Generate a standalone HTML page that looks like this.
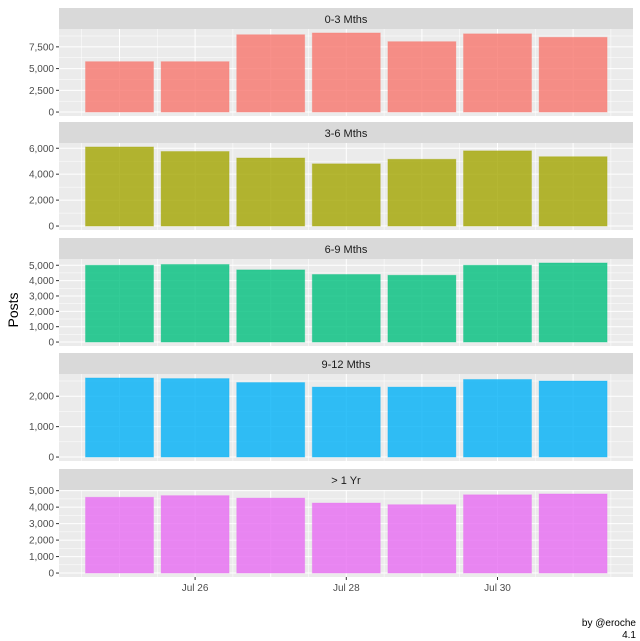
<!DOCTYPE html>
<html><head><meta charset="utf-8"><style>
body{margin:0;background:#fff;}
svg{display:block;font-family:"Liberation Sans",sans-serif;}
</style></head><body>
<svg id="chart" width="640" height="641" viewBox="0 0 640 641"></svg>
<script>
const days = ["Jul 25","Jul 26","Jul 27","Jul 28","Jul 29","Jul 30","Jul 31"];
const xTickLabels = ["Jul 26","Jul 28","Jul 30"];
const xTickIndex = [1,3,5];
const panelNames = ["0-3 Mths","3-6 Mths","6-9 Mths","9-12 Mths","> 1 Yr"];
const s03 = [5800,5800,8900,9100,8100,9000,8600];
const s36 = [6100,5750,5250,4800,5150,5800,5350];
const s69 = [5000,5050,4700,4400,4350,5000,5150];
const s912 = [2600,2580,2450,2300,2300,2550,2500];
const s1yr = [4600,4700,4550,4250,4150,4750,4800];
const ticks03 = [0,2500,5000,7500];
const ticks36 = [0,2000,4000,6000];
const ticks69 = [0,1000,2000,3000,4000,5000];
const ticks912 = [0,1000,2000];
const ticks1yr = [0,1000,2000,3000,4000,5000];

const series=[s03,s36,s69,s912,s1yr];
const tickSets=[ticks03,ticks36,ticks69,ticks912,ticks1yr];
const colors=["#F8766D","#A3A500","#00BF7D","#00B0F6","#E76BF3"];
const NS="http://www.w3.org/2000/svg";
const svg=document.getElementById('chart');
function mk(t,a,p){const e=document.createElementNS(NS,t);for(const k in a)e.setAttribute(k,a[k]);(p||svg).appendChild(e);return e;}
const L=59,R=633;
const x=i=>119.5+i*75.6;
const bw=68;
const stripTops=[8,122,238,353,469];
panelNames.forEach((name,p)=>{
  const g=mk('g',{});
  
  
  const st=stripTops[p], top=st+21, bot=top+87;
  const strip=mk('rect',{x:L,y:st,width:R-L,height:21,fill:'#d9d9d9'},g);
  
  
  const lab=mk('text',{x:(L+R)/2,y:st+15,'text-anchor':'middle','font-size':'11',fill:'#1a1a1a'},g);
  lab.textContent=name;
  
  
  const bg=mk('rect',{x:L,y:top,width:R-L,height:bot-top,fill:'#ebebeb'},g);
  
  
  const vals=series[p], mx=Math.max(...vals);
  const lo=-0.05*mx, hi=1.05*mx;
  const y=v=>bot-(v-lo)/(hi-lo)*(bot-top);
  const tk=tickSets[p], step=tk[1]-tk[0];
  for(let v=tk[0]-step/2; v<=hi; v+=step){ if(v>=lo) mk('line',{x1:L,x2:R,y1:y(v),y2:y(v),stroke:'#fff','stroke-width':0.5},g);}
  for(let i=-0.5;i<=6.5;i+=1) mk('line',{x1:x(i),x2:x(i),y1:top,y2:bot,stroke:'#fff','stroke-width':0.5},g);
  for(let i=0;i<7;i++) mk('line',{x1:x(i),x2:x(i),y1:top,y2:bot,stroke:'#fff','stroke-width':1},g);
  tk.forEach(v=>{
    mk('line',{x1:L,x2:R,y1:y(v),y2:y(v),stroke:'#fff','stroke-width':1},g);
    mk('line',{x1:L-3,x2:L,y1:y(v),y2:y(v),stroke:'#333','stroke-width':1},g);
    const t=mk('text',{x:L-5,y:y(v)+3.5,'text-anchor':'end','font-size':'10',fill:'#4d4d4d'},g);
    t.textContent=v.toLocaleString('en-US');
    
    
  });
  vals.forEach((v,i)=>{
    const b=mk('rect',{x:x(i)-bw/2,y:y(v),width:bw,height:y(0)-y(v),fill:colors[p],'fill-opacity':0.8,stroke:colors[p],'stroke-opacity':0.3},g);
    
    
  });
});
const axBot=577;
xTickIndex.forEach((i,k)=>{
  mk('line',{x1:x(i),x2:x(i),y1:axBot,y2:axBot+3,stroke:'#333'});
  const t=mk('text',{x:x(i),y:axBot+14,'text-anchor':'middle','font-size':'10',fill:'#4d4d4d'});
  t.textContent=xTickLabels[k];
  
  
});
const yl=mk('text',{x:0,y:0,transform:'translate(18,310) rotate(-90)','text-anchor':'middle','font-size':'14',fill:'#000'});
yl.textContent='Posts';


const c1=mk('text',{x:636,y:626,'text-anchor':'end','font-size':'10',fill:'#000'});
c1.textContent='by @eroche';


const c2=mk('text',{x:636,y:638,'text-anchor':'end','font-size':'10',fill:'#000'});
c2.textContent='4.1';


</script>
</body></html>
